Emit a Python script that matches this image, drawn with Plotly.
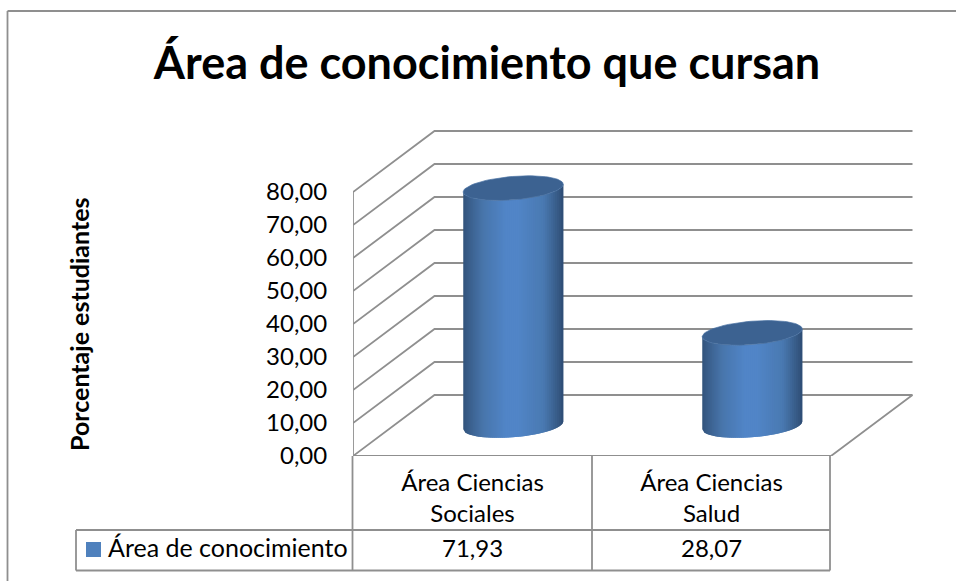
import numpy as np
import plotly.graph_objects as go

# ---- data ----
categorias = ["Área Ciencias<br>Sociales", "Área Ciencias<br>Salud"]
valores = [71.93, 28.07]
serie = "Área de conocimiento"
titulo = "Área de conocimiento que cursan"
titulo_y = "Porcentaje estudiantes"
ticks_y = [0, 10, 20, 30, 40, 50, 60, 70, 80]

# ---- page geometry (px) ----
W, H = 956, 581
L, R, T, B = 353, 913, 130, 456      # plot area
X_UNIT = (831 - 353) / 2             # px per category
Y_UNIT = (456 - 192) / 80            # px per value unit
DX = 81.5 / X_UNIT                   # depth offset on x
DY = 61 / Y_UNIT                     # depth offset on y
A = 50 / X_UNIT                      # cylinder half width
Bb = 11.7 / Y_UNIT                   # ellipse half height
S = 3.85 / Y_UNIT                    # ellipse tilt
FONT = "Lato, Carlito, Calibri, sans-serif"
GRID = "#8f8f8f"
TXT = "#000000"
FS = 24

def px(x): return (x - L) / (R - L)
def py(y): return (B - y) / (B - T)
def proj(x, v, d): return x + DX * d, v + DY * d

fig = go.Figure()

def line(xs, ys, color=GRID, width=1.8):
    fig.add_trace(go.Scatter(x=xs, y=ys, mode="lines", hoverinfo="skip", showlegend=False,
                             cliponaxis=False, line=dict(color=color, width=width)))

# walls and gridlines
for v in ticks_y:
    x1, y1 = proj(0, v, 1)
    x2, y2 = proj(2, v, 1)
    line([0, x1, x2], [v, y1, y2])
fx, fy = proj(2, 0, 1)
line([0, 2, fx], [0, 0, fy])
line([0, 0], [0, ticks_y[-1]])

# cylinders
stops_u = [0.0, 0.06, 0.2, 0.42, 0.55, 0.8, 0.94, 1.0]
stops_c = [(50, 84, 124), (58, 95, 140), (72, 118, 172), (81, 133, 199), (81, 133, 199),
           (74, 122, 178), (56, 92, 136), (46, 76, 116)]
def grad(u):
    return "rgb(%d,%d,%d)" % tuple(np.interp(u, stops_u, [c[i] for c in stops_c]) for i in range(3))

N = 50
for i, val in enumerate(valores):
    cx, cb = proj(i + 0.5, 0, 0.5)
    ct = cb + val
    edges = np.linspace(-1, 1, N + 1)
    for k in range(N):
        # each strip reaches under the next one, so no seams show
        c = np.linspace(edges[k], 1.0 if k == N - 1 else edges[k + 1] + 2 / N, 5)
        low = -Bb * np.sqrt(np.clip(1 - c ** 2, 0, 1)) + S * c
        xs = cx + A * c
        sx = np.concatenate([xs, xs[::-1]])
        sy = np.concatenate([cb + low, (ct + low)[::-1]])
        col = grad((k + 0.5) / N)
        fig.add_trace(go.Scatter(x=sx, y=sy, mode="lines", fill="toself", fillcolor=col,
                                 line=dict(width=0), hoverinfo="skip", showlegend=False))
    t = np.linspace(0, 2 * np.pi, 80)
    fig.add_trace(go.Scatter(x=cx + A * np.cos(t), y=ct + S * np.cos(t) + Bb * np.sin(t),
                             mode="lines", fill="toself", fillcolor="#3c6291",
                             line=dict(color="#4a72a3", width=0.7), hoverinfo="skip", showlegend=False))

# data table
shapes = []
def seg(x0, y0, x1, y1):
    shapes.append(dict(type="line", xref="paper", yref="paper", x0=px(x0), y0=py(y0), x1=px(x1), y1=py(y1),
                       line=dict(color=GRID, width=1.8), layer="above"))
seg(352.5, 456, 352.5, 570.5)
seg(592, 456, 592, 570.5)
seg(830, 456, 830, 570.5)
seg(76, 530, 830, 530)
seg(76, 570.5, 830, 570.5)
seg(76, 530, 76, 570.5)
# chart border (cropped at right and bottom)
seg(7.5, 11, 7.5, 581)
seg(7.5, 11, 956, 11)
# legend key
shapes.append(dict(type="rect", xref="paper", yref="paper", x0=px(86), x1=px(101), y0=py(557), y1=py(542),
                   fillcolor="#4f81bd", line=dict(width=0)))

ann = [dict(text=serie, xref="paper", yref="paper", x=px(106), y=py(547), xanchor="left", yanchor="middle",
            showarrow=False, font=dict(family=FONT, size=25, color=TXT)),
       dict(text=titulo_y, xref="paper", yref="paper", x=px(79), y=py(324), xanchor="center", yanchor="middle",
            textangle=-90, showarrow=False, font=dict(family=FONT, size=25, color=TXT, weight="bold"))]
for i, val in enumerate(valores):
    ann.append(dict(text=f"{val:.2f}".replace(".", ","), xref="x", yref="paper", x=i + 0.5, y=py(547),
                    xanchor="center", yanchor="middle", showarrow=False,
                    font=dict(family=FONT, size=FS, color=TXT)))

fig.update_layout(
    width=W, height=H, margin=dict(l=L, r=W - R, t=T, b=H - B, autoexpand=False),
    paper_bgcolor="white", plot_bgcolor="white", separators=",.",
    showlegend=False, shapes=shapes, annotations=ann,
    title=dict(text=titulo, x=487 / W, y=1 - 63 / H, xref="container", yref="container",
               xanchor="center", yanchor="middle",
               font=dict(family=FONT, size=45, color=TXT, weight="bold")),
    xaxis=dict(range=[0, (R - L) / X_UNIT], showgrid=False, zeroline=False, showline=False,
               tickmode="array", tickvals=[0.5, 1.5], ticktext=categorias,
               ticks="outside", ticklen=5, tickcolor="rgba(0,0,0,0)",
               tickfont=dict(family=FONT, size=FS, color=TXT)),
    yaxis=dict(range=[0, (B - T) / Y_UNIT], showgrid=False, zeroline=False, showline=False,
               tickmode="array", tickvals=ticks_y, tickformat=".2f",
               ticks="outside", ticklen=20, tickcolor="rgba(0,0,0,0)",
               tickfont=dict(family=FONT, size=FS, color=TXT)),
)

fig.write_html("out.html", config=dict(displayModeBar=False),
               post_script="document.body.style.margin='0';document.body.style.overflow='hidden';")
